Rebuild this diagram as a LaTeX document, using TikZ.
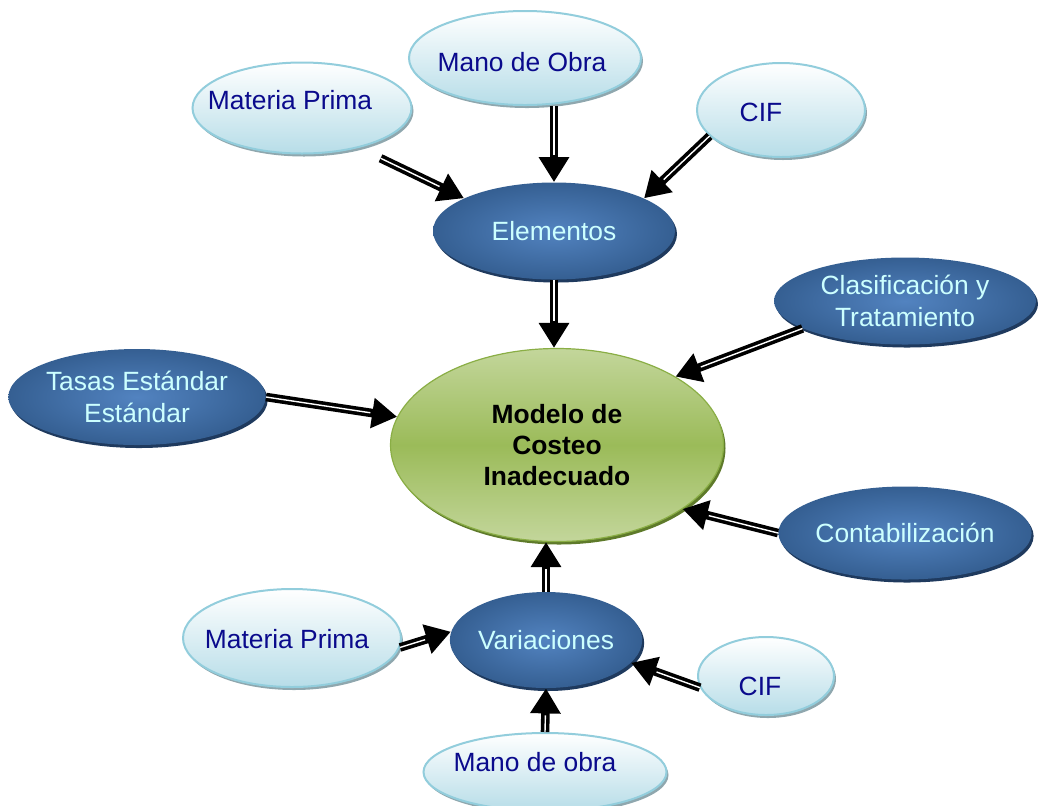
\documentclass[tikz,border=0pt]{standalone}
\usepackage{fontspec}
\setmainfont{Liberation Sans}
\usepackage{tikz}
\usetikzlibrary{
  positioning,
  calc,
  arrows.meta,
  shapes.geometric,
  shadows
}
\definecolor{azulTexto}{HTML}{0A0A8C}
\definecolor{celesteBorde}{HTML}{92CDDC}
\definecolor{celesteFondo}{HTML}{B7DDE8}
\definecolor{celesteSombra}{HTML}{8FA7AE}
\definecolor{azulCentro}{HTML}{5283C0}
\definecolor{azulBorde}{HTML}{355F92}
\definecolor{azulSombra}{HTML}{1F3A5E}
\definecolor{textoClaro}{HTML}{CCFFFF}
\definecolor{verdeClaro}{HTML}{C3D69B}
\definecolor{verdeMedio}{HTML}{9BBB59}
\definecolor{verdeBorde}{HTML}{8AAE45}
\definecolor{verdeSombra}{HTML}{5E7A2A}

\tikzset{
  letra/.style={font=\fontsize{13.2}{16}\selectfont},
  etiqueta/.style={letra, text=azulTexto},
  claro/.style={ellipse, draw=celesteBorde, line width=1pt, top color=white,
    bottom color=celesteFondo, inner sep=0pt,
    drop shadow={shadow xshift=1pt, shadow yshift=-1.5pt, fill=celesteSombra, opacity=1}},
  oscuro/.style={ellipse, inner color=azulCentro, outer color=azulBorde, inner sep=0pt,
    letra, text=textoClaro, align=center,
    drop shadow={shadow xshift=1pt, shadow yshift=-1.5pt, fill=azulSombra, opacity=1}},
  central/.style={ellipse, draw=verdeBorde, line width=0.6pt, top color=verdeClaro,
    bottom color=verdeClaro, middle color=verdeMedio, inner sep=0pt,
    font=\fontsize{13.2}{15.5}\selectfont\bfseries, align=center,
    drop shadow={shadow xshift=1pt, shadow yshift=-1.5pt, fill=verdeSombra, opacity=1}},
  flecha/.style={line width=4.3pt, -{Triangle[width=14.5pt,length=12.5pt]},
    postaction={draw=white, line width=0.7pt, shorten >=13.5pt, -}}
}

\begin{document}
\begin{tikzpicture}[x=0.5pt,y=-0.5pt]
  \useasboundingbox (0,0) rectangle (1038,805);

  % elementos del costo (arriba)
  \node[claro, minimum width=109.5pt, minimum height=45.5pt,
    label={[etiqueta, shift={(-12,-8)}]center:Materia Prima}] (mpA) at (302,108) {};
  \node[claro, minimum width=116pt, minimum height=47pt,
    label={[etiqueta, shift={(-3,4)}]center:Mano de Obra}] (mdo) at (525,58) {};
  \node[claro, minimum width=84pt, minimum height=47pt,
    label={[etiqueta, shift={(-20,2)}]center:CIF}] (cifA) at (781,110) {};

  % nodo Elementos
  \node[oscuro, minimum width=121pt, minimum height=48.5pt] (elem) at (554,231) {Elementos};

  % nodos laterales
  \node[oscuro, minimum width=131pt, minimum height=43.5pt] (clas) at (905,301) {Clasificación y\\Tratamiento};
  \node[oscuro, minimum width=126pt, minimum height=48pt] (tasas) at (137,397) {Tasas Estándar\\Estándar};
  \node[oscuro, minimum width=120pt, minimum height=46.5pt] (cont) at (905,533) {Contabilización};

  % nodo central
  \node[central, minimum width=166.5pt, minimum height=96.5pt] (mod) at (557,445) {Modelo de\\Costeo\\Inadecuado};

  % nodo Variaciones
  \node[oscuro, minimum width=96pt, minimum height=48pt] (var) at (546,640) {Variaciones};

  % elementos de las variaciones (abajo)
  \node[claro, minimum width=109pt, minimum height=49pt,
    label={[etiqueta, shift={(-5,1)}]center:Materia Prima}] (mpB) at (292,638) {};
  \node[claro, minimum width=68pt, minimum height=39pt,
    label={[etiqueta, shift={(-6,10)}]center:CIF}] (cifB) at (766,676) {};
  \node[claro, minimum width=121.5pt, minimum height=39pt,
    label={[etiqueta, shift={(-10,-10)}]center:Mano de obra}] (mdob) at (545,772) {};

  % flechas hacia Elementos
  \draw[flecha, shorten <=12pt] (mpA.-35) -- (elem.160);
  \draw[flecha] (elem.north |- mdo.south) -- (elem.north);
  \draw[flecha] (cifA.200) -- (elem.20);

  % flechas hacia el modelo
  \draw[flecha] (elem.south) -- (elem.south |- mod.north);
  \draw[flecha] (clas.195) -- (mod.30);
  \draw[flecha] (tasas.east) -- (mod.170);
  \draw[flecha] (cont.west) -- (mod.-27);
  \draw[flecha] (var.north) -- (var.north |- mod.south);

  % flechas hacia Variaciones
  \draw[flecha] (mpB.-5) -- (var.175);
  \draw[flecha] (cifB.190) -- (var.-15);
  \draw[flecha] (mdob.north) -- (var.south);
\end{tikzpicture}
\end{document}
